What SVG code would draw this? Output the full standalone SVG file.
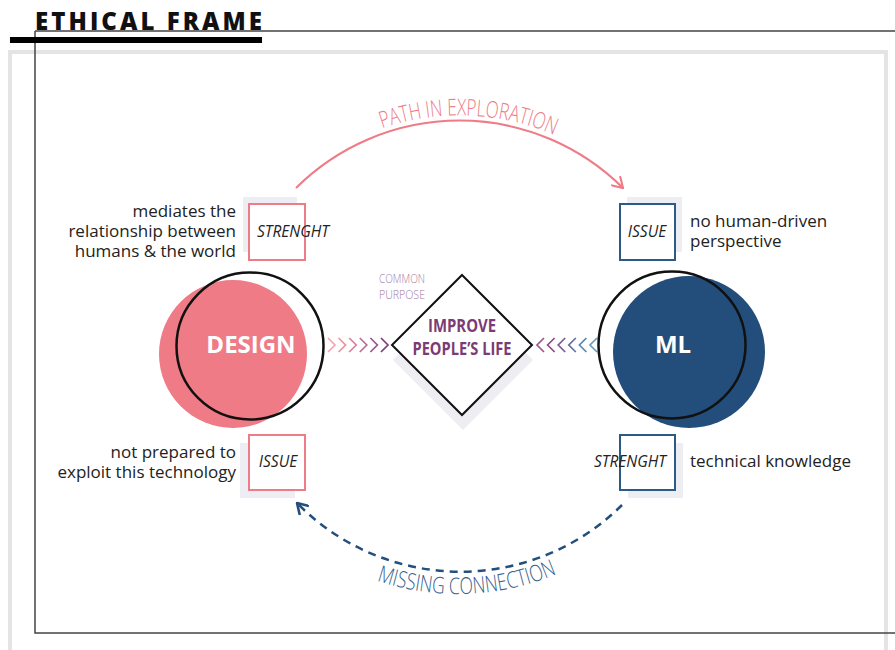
<svg xmlns="http://www.w3.org/2000/svg" width="895" height="650" viewBox="0 0 895 650">
<style>
.body{font-family:"Open Sans","DejaVu Sans",sans-serif;font-size:17px;fill:#222}
.tag{font-family:"Open Sans","DejaVu Sans",sans-serif;font-size:15.5px;font-style:italic;fill:#222;text-anchor:middle}
.cond{font-family:"Open Sans","DejaVu Sans",sans-serif;font-weight:300}
.shadow{fill:#eceef4}
.pinkbox{fill:#fff;stroke:#ee7b86;stroke-width:2}
.bluebox{fill:#fff;stroke:#2c5a87;stroke-width:2}
.chev{fill:none;stroke-width:1.7}
</style>
<defs>
<marker id="arrPink" viewBox="0 0 12 12" refX="11" refY="6" markerWidth="14" markerHeight="14" markerUnits="userSpaceOnUse" orient="auto">
<path d="M2,0.5 L11,6 L2,11.5" fill="none" stroke="#ee7b86" stroke-width="1.8"/>
</marker>
<marker id="arrBlue" viewBox="0 0 12 12" refX="11" refY="6" markerWidth="14" markerHeight="14" markerUnits="userSpaceOnUse" orient="auto">
<path d="M2,0.5 L11,6 L2,11.5" fill="none" stroke="#244f7c" stroke-width="2.2"/>
</marker>
<path id="tpTop" d="M292.1,184.6 A237,237 0 0,1 626.9,184.6"/>
<path id="tpBot" d="M279.1,519.9 A253,253 0 0,0 636.9,519.9"/>
</defs>

<!-- frame -->
<g id="frame">
<rect x="10" y="52" width="876" height="620" fill="none" stroke="#e4e4e4" stroke-width="4"/>
<path d="M35,31 H895 M35,31 V633 H895" fill="none" stroke="#444" stroke-width="1.5"/>
<rect x="10" y="37" width="252" height="6" fill="#000"/>
<text x="35" y="30" font-family="'Open Sans','DejaVu Sans',sans-serif" font-weight="800" font-size="24" textLength="227" lengthAdjust="spacing" fill="#111">ETHICAL FRAME</text>
</g>

<!-- connectors -->
<g id="connectors">
<path d="M296,188 A232,232 0 0,1 623,188" fill="none" stroke="#ee7b86" stroke-width="2" marker-end="url(#arrPink)"/>
<text class="cond" font-size="23" fill="#ee7b86"><textPath href="#tpTop" startOffset="195" text-anchor="middle" textLength="176" lengthAdjust="spacingAndGlyphs">PATH IN EXPLORATION</textPath></text>
<path d="M622,505 A229,229 0 0,1 297,503" fill="none" stroke="#244f7c" stroke-width="2.5" stroke-dasharray="8,6" marker-end="url(#arrBlue)"/>
<text class="cond" font-size="23" fill="#3a5f8c"><textPath href="#tpBot" startOffset="208" text-anchor="middle" textLength="184" lengthAdjust="spacingAndGlyphs">MISSING CONNECTION</textPath></text>
<g id="chevrons-left">
<polyline class="chev" stroke="#f5a5ad" points="328,338 335,345 328,352"/>
<polyline class="chev" stroke="#ec93a0" points="338.6,338 345.6,345 338.6,352"/>
<polyline class="chev" stroke="#d97f9b" points="349.2,338 356.2,345 349.2,352"/>
<polyline class="chev" stroke="#bb6c94" points="359.8,338 366.8,345 359.8,352"/>
<polyline class="chev" stroke="#9d5589" points="370.4,338 377.4,345 370.4,352"/>
<polyline class="chev" stroke="#7e3f78" points="381,338 388,345 381,352"/>
</g>
<g id="chevrons-right">
<polyline class="chev" stroke="#9a5a8e" points="544,338 537,345 544,352"/>
<polyline class="chev" stroke="#8c4d86" points="554.6,338 547.6,345 554.6,352"/>
<polyline class="chev" stroke="#7a5a92" points="565.2,338 558.2,345 565.2,352"/>
<polyline class="chev" stroke="#5f6e9f" points="575.8,338 568.8,345 575.8,352"/>
<polyline class="chev" stroke="#5b85b0" points="586.4,338 579.4,345 586.4,352"/>
<polyline class="chev" stroke="#6f9ac0" points="597,338 590,345 597,352"/>
</g>
</g>

<!-- Design node -->
<g id="design">
<circle cx="233" cy="354" r="74" fill="#ee7b86"/>
<circle cx="250" cy="346" r="73.5" fill="none" stroke="#111" stroke-width="2.5"/>
<text x="251" y="353" font-family="'Open Sans','DejaVu Sans',sans-serif" font-weight="700" font-size="24" fill="#fff" text-anchor="middle">DESIGN</text>
</g>

<!-- ML node -->
<g id="ml">
<circle cx="689" cy="352" r="76" fill="#234e7b"/>
<circle cx="672" cy="345" r="73.5" fill="none" stroke="#111" stroke-width="2.5"/>
<text x="673" y="353" font-family="'Open Sans','DejaVu Sans',sans-serif" font-weight="700" font-size="24" fill="#fff" text-anchor="middle">ML</text>
</g>

<!-- purpose node -->
<g id="purpose">
<polygon points="463,290 533,360 463,430 393,360" fill="#ededf2"/>
<polygon points="462,275 532,345 462,415 392,345" fill="#fff" stroke="#111" stroke-width="2"/>
<text x="462" y="332" font-family="'Open Sans','DejaVu Sans',sans-serif" font-weight="700" font-size="17" fill="#7b3b74" text-anchor="middle" textLength="68" lengthAdjust="spacingAndGlyphs">IMPROVE</text>
<text x="462" y="355" font-family="'Open Sans','DejaVu Sans',sans-serif" font-weight="700" font-size="17" fill="#7b3b74" text-anchor="middle" textLength="99" lengthAdjust="spacingAndGlyphs">PEOPLE’S LIFE</text>
<text class="cond" x="402" y="283" font-size="12.5" fill="#a27ba0" text-anchor="middle" textLength="46" lengthAdjust="spacingAndGlyphs">COMMON</text>
<text class="cond" x="402" y="299" font-size="12.5" fill="#a27ba0" text-anchor="middle" textLength="46" lengthAdjust="spacingAndGlyphs">PURPOSE</text>
</g>

<!-- Design strength -->
<g id="design-strength">
<rect class="shadow" x="243" y="197" width="54" height="55"/>
<rect class="pinkbox" x="249" y="204" width="56" height="56"/>
<text class="tag" x="293" y="237">STRENGHT</text>
<text class="body" text-anchor="end"><tspan x="236" y="217">mediates the</tspan><tspan x="236" y="237">relationship between</tspan><tspan x="236" y="257">humans &amp; the world</tspan></text>
</g>

<!-- ML issue -->
<g id="ml-issue">
<rect class="shadow" x="627" y="197" width="55" height="55"/>
<rect class="bluebox" x="620" y="204" width="55" height="56"/>
<text class="tag" x="647" y="237">ISSUE</text>
<text class="body"><tspan x="690" y="227">no human-driven</tspan><tspan x="690" y="247">perspective</tspan></text>
</g>

<!-- Design issue -->
<g id="design-issue">
<rect class="shadow" x="240" y="443" width="55" height="55"/>
<rect class="pinkbox" x="249" y="435" width="56" height="55"/>
<text class="tag" x="278" y="467">ISSUE</text>
<text class="body" text-anchor="end"><tspan x="236" y="458">not prepared to</tspan><tspan x="236" y="478">exploit this technology</tspan></text>
</g>

<!-- ML strength -->
<g id="ml-strength">
<rect class="shadow" x="628" y="443" width="55" height="55"/>
<rect class="bluebox" x="620" y="435" width="55" height="55"/>
<text class="tag" x="630" y="467">STRENGHT</text>
<text class="body" x="690" y="467">technical knowledge</text>
</g>
</svg>
